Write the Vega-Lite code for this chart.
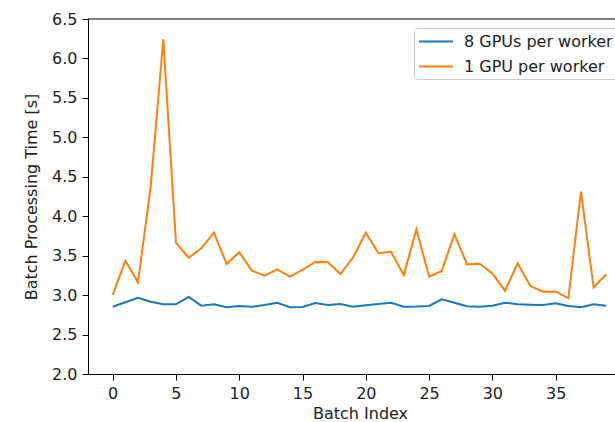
{
  "$schema": "https://vega.github.io/schema/vega-lite/v6.json",
  "width": 527,
  "height": 355,
  "autosize": {"type": "none"},
  "padding": {"left": 88, "top": 19, "right": 0, "bottom": 48},
  "config": {
    "view": {"stroke": null},
    "font": "DejaVu Sans",
    "axis": {
      "labelFont": "DejaVu Sans",
      "titleFont": "DejaVu Sans",
      "labelFontSize": 16,
      "titleFontSize": 16,
      "titleFontWeight": "normal",
      "labelColor": "#222222",
      "titleColor": "#222222",
      "domainColor": "#000000",
      "tickColor": "#000000",
      "domainWidth": 1,
      "tickWidth": 1,
      "tickSize": 6,
      "grid": false
    }
  },
  "datasets": {
    "main": [
      {"batch": 0, "series": "8 GPUs per worker", "time": 2.853},
      {"batch": 1, "series": "8 GPUs per worker", "time": 2.909},
      {"batch": 2, "series": "8 GPUs per worker", "time": 2.965},
      {"batch": 3, "series": "8 GPUs per worker", "time": 2.917},
      {"batch": 4, "series": "8 GPUs per worker", "time": 2.883},
      {"batch": 5, "series": "8 GPUs per worker", "time": 2.883},
      {"batch": 6, "series": "8 GPUs per worker", "time": 2.978},
      {"batch": 7, "series": "8 GPUs per worker", "time": 2.866},
      {"batch": 8, "series": "8 GPUs per worker", "time": 2.883},
      {"batch": 9, "series": "8 GPUs per worker", "time": 2.847},
      {"batch": 10, "series": "8 GPUs per worker", "time": 2.862},
      {"batch": 11, "series": "8 GPUs per worker", "time": 2.853},
      {"batch": 12, "series": "8 GPUs per worker", "time": 2.875},
      {"batch": 13, "series": "8 GPUs per worker", "time": 2.904},
      {"batch": 14, "series": "8 GPUs per worker", "time": 2.847},
      {"batch": 15, "series": "8 GPUs per worker", "time": 2.849},
      {"batch": 16, "series": "8 GPUs per worker", "time": 2.9},
      {"batch": 17, "series": "8 GPUs per worker", "time": 2.875},
      {"batch": 18, "series": "8 GPUs per worker", "time": 2.887},
      {"batch": 19, "series": "8 GPUs per worker", "time": 2.853},
      {"batch": 20, "series": "8 GPUs per worker", "time": 2.871},
      {"batch": 21, "series": "8 GPUs per worker", "time": 2.887},
      {"batch": 22, "series": "8 GPUs per worker", "time": 2.904},
      {"batch": 23, "series": "8 GPUs per worker", "time": 2.853},
      {"batch": 24, "series": "8 GPUs per worker", "time": 2.855},
      {"batch": 25, "series": "8 GPUs per worker", "time": 2.862},
      {"batch": 26, "series": "8 GPUs per worker", "time": 2.946},
      {"batch": 27, "series": "8 GPUs per worker", "time": 2.904},
      {"batch": 28, "series": "8 GPUs per worker", "time": 2.858},
      {"batch": 29, "series": "8 GPUs per worker", "time": 2.853},
      {"batch": 30, "series": "8 GPUs per worker", "time": 2.866},
      {"batch": 31, "series": "8 GPUs per worker", "time": 2.904},
      {"batch": 32, "series": "8 GPUs per worker", "time": 2.883},
      {"batch": 33, "series": "8 GPUs per worker", "time": 2.879},
      {"batch": 34, "series": "8 GPUs per worker", "time": 2.875},
      {"batch": 35, "series": "8 GPUs per worker", "time": 2.896},
      {"batch": 36, "series": "8 GPUs per worker", "time": 2.862},
      {"batch": 37, "series": "8 GPUs per worker", "time": 2.845},
      {"batch": 38, "series": "8 GPUs per worker", "time": 2.883},
      {"batch": 39, "series": "8 GPUs per worker", "time": 2.866},
      {"batch": 0, "series": "1 GPU per worker", "time": 3.0},
      {"batch": 1, "series": "1 GPU per worker", "time": 3.436},
      {"batch": 2, "series": "1 GPU per worker", "time": 3.162},
      {"batch": 3, "series": "1 GPU per worker", "time": 4.37},
      {"batch": 4, "series": "1 GPU per worker", "time": 6.243},
      {"batch": 5, "series": "1 GPU per worker", "time": 3.665},
      {"batch": 6, "series": "1 GPU per worker", "time": 3.474},
      {"batch": 7, "series": "1 GPU per worker", "time": 3.593},
      {"batch": 8, "series": "1 GPU per worker", "time": 3.791},
      {"batch": 9, "series": "1 GPU per worker", "time": 3.394},
      {"batch": 10, "series": "1 GPU per worker", "time": 3.543},
      {"batch": 11, "series": "1 GPU per worker", "time": 3.31},
      {"batch": 12, "series": "1 GPU per worker", "time": 3.246},
      {"batch": 13, "series": "1 GPU per worker", "time": 3.327},
      {"batch": 14, "series": "1 GPU per worker", "time": 3.234},
      {"batch": 15, "series": "1 GPU per worker", "time": 3.32},
      {"batch": 16, "series": "1 GPU per worker", "time": 3.42},
      {"batch": 17, "series": "1 GPU per worker", "time": 3.416},
      {"batch": 18, "series": "1 GPU per worker", "time": 3.27},
      {"batch": 19, "series": "1 GPU per worker", "time": 3.479},
      {"batch": 20, "series": "1 GPU per worker", "time": 3.791},
      {"batch": 21, "series": "1 GPU per worker", "time": 3.53},
      {"batch": 22, "series": "1 GPU per worker", "time": 3.55},
      {"batch": 23, "series": "1 GPU per worker", "time": 3.255},
      {"batch": 24, "series": "1 GPU per worker", "time": 3.834},
      {"batch": 25, "series": "1 GPU per worker", "time": 3.234},
      {"batch": 26, "series": "1 GPU per worker", "time": 3.306},
      {"batch": 27, "series": "1 GPU per worker", "time": 3.771},
      {"batch": 28, "series": "1 GPU per worker", "time": 3.39},
      {"batch": 29, "series": "1 GPU per worker", "time": 3.398},
      {"batch": 30, "series": "1 GPU per worker", "time": 3.276},
      {"batch": 31, "series": "1 GPU per worker", "time": 3.056},
      {"batch": 32, "series": "1 GPU per worker", "time": 3.403},
      {"batch": 33, "series": "1 GPU per worker", "time": 3.115},
      {"batch": 34, "series": "1 GPU per worker", "time": 3.043},
      {"batch": 35, "series": "1 GPU per worker", "time": 3.047},
      {"batch": 36, "series": "1 GPU per worker", "time": 2.96},
      {"batch": 37, "series": "1 GPU per worker", "time": 4.311},
      {"batch": 38, "series": "1 GPU per worker", "time": 3.099},
      {"batch": 39, "series": "1 GPU per worker", "time": 3.264}
    ],
    "top": [{"t": 6.5}]
  },
  "layer": [
    {
      "data": {"name": "main"},
      "mark": {"type": "line", "strokeWidth": 2},
      "encoding": {
        "x": {
          "field": "batch",
          "type": "quantitative",
          "scale": {"domain": [-1.95, 39.69], "nice": false, "zero": false},
          "axis": {
            "values": [0, 5, 10, 15, 20, 25, 30, 35],
            "title": "Batch Index",
            "labelFlush": false,
            "labelOverlap": false,
            "labelPadding": 5,
            "titlePadding": 4,
            "titleX": 272,
            "titleAnchor": "middle"
          }
        },
        "y": {
          "field": "time",
          "type": "quantitative",
          "scale": {"domain": [2, 6.5], "nice": false, "zero": false},
          "axis": {
            "values": [2, 2.5, 3, 3.5, 4, 4.5, 5, 5.5, 6, 6.5],
            "format": ".1f",
            "title": "Batch Processing Time [s]",
            "labelOverlap": false,
            "labelFlush": false,
            "labelPadding": 5,
            "titlePadding": 12
          }
        },
        "color": {
          "field": "series",
          "type": "nominal",
          "sort": ["8 GPUs per worker", "1 GPU per worker"],
          "scale": {"domain": ["8 GPUs per worker", "1 GPU per worker"], "range": ["#1f77b4", "#ff7f0e"]},
          "legend": {
            "title": null,
            "orient": "none",
            "legendX": 326,
            "legendY": 9,
            "symbolType": "M-1,0H3",
            "symbolSize": 289,
            "symbolStrokeWidth": 2,
            "labelFontSize": 16,
            "labelFont": "DejaVu Sans",
            "labelColor": "#222222",
            "labelOffset": 27,
            "labelLimit": 0,
            "rowPadding": 7,
            "padding": 4,
            "strokeColor": "#cccccc",
            "cornerRadius": 3,
            "fillColor": "rgba(255,255,255,0.8)"
          }
        }
      }
    },
    {
      "data": {"name": "top"},
      "mark": {"type": "rule", "color": "#000000", "strokeWidth": 1},
      "encoding": {
        "y": {
          "field": "t",
          "type": "quantitative",
          "axis": {
            "values": [2, 2.5, 3, 3.5, 4, 4.5, 5, 5.5, 6, 6.5],
            "format": ".1f",
            "title": "Batch Processing Time [s]",
            "labelOverlap": false,
            "labelFlush": false,
            "labelPadding": 5,
            "titlePadding": 12
          }
        }
      }
    }
  ]
}
